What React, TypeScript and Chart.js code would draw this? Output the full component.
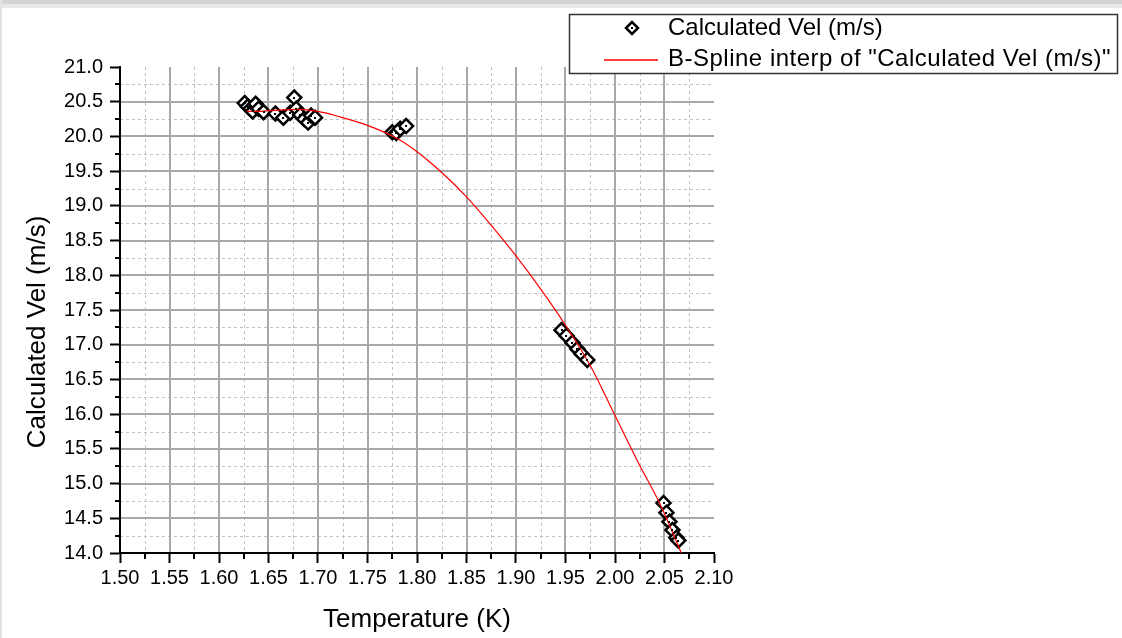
import React, { useEffect, useRef } from 'react';
import { Chart, registerables } from 'chart.js';

Chart.register(...registerables);

// Measured points (Temperature K, Calculated Vel m/s)
const temperature = [
  1.626, 1.629, 1.632, 1.634, 1.637, 1.640, 1.645, 1.657, 1.665, 1.672, 1.676, 1.678, 1.682, 1.686, 1.690, 1.693, 1.697,
  1.775, 1.779, 1.783, 1.789,
  1.946, 1.951, 1.957, 1.962, 1.966, 1.972,
  2.049, 2.052, 2.055, 2.058, 2.062, 2.064,
];
const velocity = [
  20.48, 20.43, 20.40, 20.36, 20.47, 20.40, 20.35, 20.33, 20.27, 20.34, 20.56, 20.40, 20.31, 20.25, 20.20, 20.30, 20.27,
  20.06, 20.05, 20.11, 20.15,
  17.21, 17.13, 17.03, 16.94, 16.87, 16.78,
  14.72, 14.58, 14.45, 14.33, 14.22, 14.18,
];

// B-spline curve
const splineT = [1.628, 1.64, 1.66, 1.68, 1.70, 1.72, 1.75, 1.78, 1.80, 1.825, 1.85, 1.875, 1.90, 1.925, 1.95, 1.975, 2.00, 2.025, 2.045, 2.067];
const splineV = [20.36, 20.36, 20.38, 20.39, 20.36, 20.29, 20.16, 19.97, 19.78, 19.48, 19.13, 18.72, 18.28, 17.80, 17.28, 16.70, 15.98, 15.26, 14.72, 14.00];

const xTickValues = [1.50, 1.55, 1.60, 1.65, 1.70, 1.75, 1.80, 1.85, 1.90, 1.95, 2.00, 2.05, 2.10];
const yTickValues = [14.0, 14.5, 15.0, 15.5, 16.0, 16.5, 17.0, 17.5, 18.0, 18.5, 19.0, 19.5, 20.0, 20.5, 21.0];
const xMinorValues = [1.525, 1.575, 1.625, 1.675, 1.725, 1.775, 1.825, 1.875, 1.925, 1.975, 2.025, 2.075];
const yMinorValues = [14.25, 14.75, 15.25, 15.75, 16.25, 16.75, 17.25, 17.75, 18.25, 18.75, 19.25, 19.75, 20.25, 20.75];

const xTitle = 'Temperature (K)';
const yTitle = 'Calculated Vel (m/s)';
const legendLabels = ['Calculated Vel (m/s)', 'B-Spline interp of "Calculated Vel (m/s)"'];

const FONT = '"Liberation Sans", Arial, sans-serif';

const decorPlugin = {
  id: 'decor',
  beforeDraw(chart: any) {
    const { ctx, chartArea: a, scales } = chart;
    const x = scales.x;
    const y = scales.y;
    ctx.save();
    ctx.fillStyle = '#ffffff';
    ctx.fillRect(0, 0, chart.width, chart.height);
    // screenshot frame
    ctx.fillStyle = '#d4d4d4';
    ctx.fillRect(0, 0, chart.width, 4);
    ctx.fillStyle = '#e8e8e8';
    ctx.fillRect(0, 4, chart.width, 4);
    ctx.fillStyle = '#e2e2e2';
    ctx.fillRect(0, 0, 2, chart.height);

    // minor grid
    ctx.strokeStyle = '#c2c2c2';
    ctx.lineWidth = 1;
    ctx.setLineDash([3, 3]);
    for (const v of xMinorValues) {
      const px = Math.round(x.getPixelForValue(v)) + 0.5;
      ctx.beginPath(); ctx.moveTo(px, a.top); ctx.lineTo(px, a.bottom); ctx.stroke();
    }
    for (const v of yMinorValues) {
      const py = Math.round(y.getPixelForValue(v)) + 0.5;
      ctx.beginPath(); ctx.moveTo(a.left, py); ctx.lineTo(a.right, py); ctx.stroke();
    }
    ctx.setLineDash([]);
    // major grid
    ctx.strokeStyle = '#a8a8a8';
    ctx.lineWidth = 2;
    for (const v of xTickValues.slice(1, -1)) {
      const px = Math.round(x.getPixelForValue(v));
      ctx.beginPath(); ctx.moveTo(px, a.top); ctx.lineTo(px, a.bottom); ctx.stroke();
    }
    for (const v of yTickValues.slice(1, -1)) {
      const py = Math.round(y.getPixelForValue(v));
      ctx.beginPath(); ctx.moveTo(a.left, py); ctx.lineTo(a.right, py); ctx.stroke();
    }
    // minor tick marks
    ctx.strokeStyle = '#000';
    ctx.lineWidth = 2;
    for (const v of xMinorValues) {
      const px = Math.round(x.getPixelForValue(v));
      ctx.beginPath(); ctx.moveTo(px, a.bottom); ctx.lineTo(px, a.bottom + 6); ctx.stroke();
    }
    for (const v of yMinorValues) {
      const py = Math.round(y.getPixelForValue(v));
      ctx.beginPath(); ctx.moveTo(a.left, py); ctx.lineTo(a.left - 5, py); ctx.stroke();
    }
    ctx.restore();
  },
  afterDatasetsDraw(chart: any) {
    const { ctx } = chart;
    const meta = chart.getDatasetMeta(0);
    ctx.save();
    ctx.fillStyle = '#000';
    for (const el of meta.data) {
      ctx.fillRect(Math.round(el.x) - 1, Math.round(el.y) - 1, 2, 2);
    }
    ctx.restore();
  },
  afterDraw(chart: any) {
    const { ctx, chartArea: a } = chart;
    ctx.save();
    ctx.fillStyle = '#000';
    ctx.font = `26px ${FONT}`;
    ctx.textAlign = 'center';
    ctx.textBaseline = 'middle';
    ctx.fillText(xTitle, (a.left + a.right) / 2, 620);
    ctx.translate(38, 332);
    ctx.rotate(-Math.PI / 2);
    ctx.fillText(yTitle, 0, 0);
    ctx.restore();

    // legend box
    ctx.save();
    ctx.fillStyle = '#fff';
    ctx.fillRect(569, 14, 549, 60);
    ctx.strokeStyle = '#333';
    ctx.lineWidth = 1.5;
    ctx.strokeRect(569.5, 14.5, 548, 59);
    // diamond marker
    const cx = 632, cy = 28, r = 6;
    ctx.beginPath();
    ctx.moveTo(cx - r, cy); ctx.lineTo(cx, cy - r); ctx.lineTo(cx + r, cy); ctx.lineTo(cx, cy + r); ctx.closePath();
    ctx.fillStyle = '#fff'; ctx.fill();
    ctx.strokeStyle = '#000'; ctx.lineWidth = 2.5; ctx.stroke();
    ctx.fillStyle = '#000';
    ctx.fillRect(cx - 1, cy - 1, 2, 2);
    // red line
    ctx.strokeStyle = '#ff0000';
    ctx.lineWidth = 1.5;
    ctx.beginPath(); ctx.moveTo(604, 60); ctx.lineTo(658, 60); ctx.stroke();
    ctx.fillStyle = '#000';
    ctx.font = `24px ${FONT}`;
    ctx.textAlign = 'left';
    ctx.textBaseline = 'middle';
    ctx.fillText(legendLabels[0], 668, 28);
    (ctx as any).letterSpacing = '0.5px';
    ctx.fillText(legendLabels[1], 668, 59);
    (ctx as any).letterSpacing = '0px';
    ctx.restore();
  },
};

export default function App() {
  const ref = useRef<HTMLCanvasElement>(null);
  useEffect(() => {
    const canvas = ref.current;
    if (!canvas) return;
    const chart = new Chart(canvas, {
      type: 'scatter',
      data: {
        datasets: [
          {
            label: legendLabels[0],
            data: temperature.map((t, i) => ({ x: t, y: velocity[i] })),
            pointStyle: 'rectRot',
            pointRadius: 7,
            pointBorderWidth: 2.5,
            pointBorderColor: '#000',
            pointBackgroundColor: '#fff',
            showLine: false,
            order: 1,
          },
          {
            type: 'line',
            label: legendLabels[1],
            data: splineT.map((t, i) => ({ x: t, y: splineV[i] })),
            borderColor: '#ff0000',
            borderWidth: 1.2,
            pointRadius: 0,
            cubicInterpolationMode: 'monotone',
            fill: false,
            order: 0,
          } as any,
        ],
      },
      options: {
        animation: false,
        responsive: false,
        devicePixelRatio: 1,
        events: [],
        layout: { padding: { left: 0, right: 408, top: 67, bottom: 0 } },
        plugins: { legend: { display: false }, tooltip: { enabled: false }, title: { display: false } },
        scales: {
          x: {
            type: 'linear',
            min: 1.5,
            max: 2.1,
            afterBuildTicks: (scale: any) => { scale.ticks = xTickValues.map((v) => ({ value: v })); },
            afterFit: (scale: any) => { scale.height = 85; },
            ticks: {
              callback: (v: any) => Number(v).toFixed(2),
              font: { family: FONT, size: 20 },
              color: '#000',
              padding: 3,
              maxRotation: 0,
              autoSkip: false,
            },
            grid: { drawOnChartArea: false, drawTicks: true, tickLength: 10, tickWidth: 2, tickColor: '#000' },
            border: { display: true, color: '#000', width: 2 },
          },
          y: {
            type: 'linear',
            min: 14,
            max: 21,
            afterBuildTicks: (scale: any) => { scale.ticks = yTickValues.map((v) => ({ value: v })); },
            afterFit: (scale: any) => { scale.width = 120; },
            ticks: {
              callback: (v: any) => Number(v).toFixed(1),
              font: { family: FONT, size: 20 },
              color: '#000',
              padding: 7,
              autoSkip: false,
            },
            grid: { drawOnChartArea: false, drawTicks: true, tickLength: 10, tickWidth: 2, tickColor: '#000' },
            border: { display: true, color: '#000', width: 2 },
          },
        },
      },
      plugins: [decorPlugin],
    } as any);
    return () => chart.destroy();
  }, []);
  return (
    <div style={{ position: 'fixed', left: 0, top: 0, width: 1122, height: 638, background: '#fff' }}>
      <canvas ref={ref} width={1122} height={638} style={{ display: 'block', width: 1122, height: 638 }} />
    </div>
  );
}
